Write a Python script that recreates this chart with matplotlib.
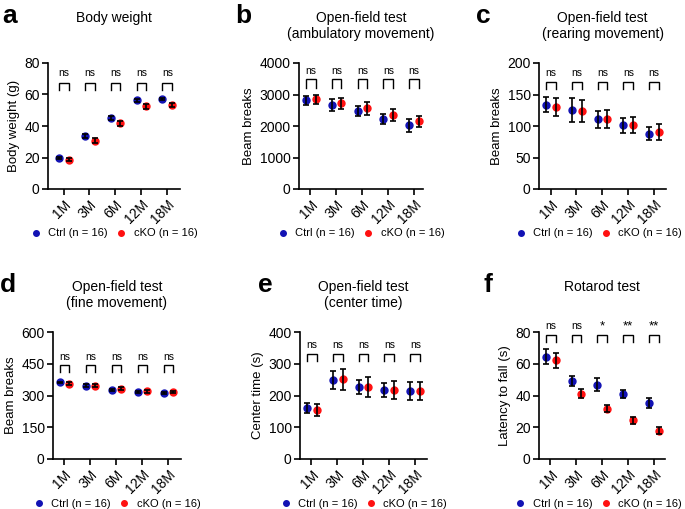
import numpy as np
import matplotlib
matplotlib.use("Agg")
import matplotlib.pyplot as plt

plt.rcParams['font.family'] = ['Liberation Sans', 'DejaVu Sans']

ages = ['1M', '3M', '6M', '12M', '18M']
labels = ['Ctrl (n = 16)', 'cKO (n = 16)']

# body weight (g)
bw_ctrl = [19.8, 33.7, 45.1, 56.4, 57.1]
bw_ctrl_err = [0.5, 1.2, 1.0, 0.9, 0.8]
bw_cko = [18.7, 30.7, 41.7, 52.6, 53.1]
bw_cko_err = [0.8, 1.5, 1.6, 1.6, 1.2]

# ambulatory movement (beam breaks)
amb_ctrl = [2821, 2653, 2474, 2232, 2021]
amb_ctrl_err = [140, 190, 160, 160, 200]
amb_cko = [2842, 2716, 2558, 2347, 2147]
amb_cko_err = [150, 180, 200, 190, 180]

# rearing movement (beam breaks)
rear_ctrl = [133.7, 126, 110.5, 101, 88]
rear_ctrl_err = [11.6, 19, 13, 12, 11]
rear_cko = [130.5, 123.7, 111, 102, 90.5]
rear_cko_err = [14.5, 18, 14, 13, 12]

# fine movement (beam breaks)
fine_ctrl = [362, 346, 328, 316, 312]
fine_ctrl_err = [3, 7, 5, 5, 5]
fine_cko = [356, 345, 331, 320, 316]
fine_cko_err = [7, 7, 7, 7, 6]

# center time (s)
ctr_ctrl = [160, 248, 226, 216, 214]
ctr_ctrl_err = [16, 29, 22, 22, 29]
ctr_cko = [154, 251, 226, 218, 215]
ctr_cko_err = [19, 34, 32, 28, 29]

# rotarod latency to fall (s)
rot_ctrl = [64.5, 49, 46.8, 41, 35.5]
rot_ctrl_err = [4.9, 3.2, 4.0, 2.6, 3.2]
rot_cko = [62.2, 41, 31.7, 24.4, 17.9]
rot_cko_err = [4.8, 2.8, 2.4, 2.3, 2.1]

sig_ns = ['ns'] * 5
sig_rot = ['ns', 'ns', '*', '**', '**']

W, H = 685, 509
fig = plt.figure(figsize=(W / 100, H / 100), dpi=100)

blue = '#1212b4'
red = '#ff1010'
off_c, off_k = -0.18, 0.20


def rect(x0, x1, y0, y1):
    return [x0 / W, 1 - y1 / H, (x1 - x0) / W, (y1 - y0) / H]


panels = [
    # letter, title, ylabel, rect, xlim, ylim, yticks, data, sig, bracket(top, bottom, text), letter pos, title top
    ('a', 'Body weight', 'Body weight (g)', (48, 180, 63, 189), (-0.60, 4.50), 80, np.arange(0, 81, 20),
     (bw_ctrl, bw_ctrl_err, bw_cko, bw_cko_err), sig_ns, (67, 63, 73.7), (2, 23), 11),
    ('b', 'Open-field test\n(ambulatory movement)', 'Beam breaks', (299, 423, 63, 189), (-0.44, 4.35), 4000,
     np.arange(0, 4001, 1000), (amb_ctrl, amb_ctrl_err, amb_cko, amb_cko_err), sig_ns, (3484, 3221, 3737), (235, 23), 11),
    ('c', 'Open-field test\n(rearing movement)', 'Beam breaks', (539, 666, 63, 189), (-0.45, 4.47), 200,
     np.arange(0, 201, 50), (rear_ctrl, rear_ctrl_err, rear_cko, rear_cko_err), sig_ns, (170, 158, 184), (476, 23), 11),
    ('d', 'Open-field test\n(fine movement)', 'Beam breaks', (53, 181, 332, 459), (-0.43, 4.49), 600,
     np.arange(0, 601, 150), (fine_ctrl, fine_ctrl_err, fine_cko, fine_cko_err), sig_ns, (444, 411, 480), (0, 292), 280),
    ('e', 'Open-field test\n(center time)', 'Center time (s)', (300, 427, 332, 459), (-0.44, 4.46), 400,
     np.arange(0, 401, 100), (ctr_ctrl, ctr_ctrl_err, ctr_cko, ctr_cko_err), sig_ns, (331, 310, 358), (258, 292), 280),
    ('f', 'Rotarod test', 'Latency to fall (s)', (539, 665, 332, 459), (-0.44, 4.43), 80,
     np.arange(0, 81, 20), (rot_ctrl, rot_ctrl_err, rot_cko, rot_cko_err), sig_rot, (78.2, 74, 83.8), (483, 292), 280),
]

x = np.arange(len(ages))

for letter, title, ylab, r, xlim, ymax, yticks, data, sig, br, lpos, ttop in panels:
    ax = fig.add_axes(rect(*r))
    yc, ec, yk, ek = data
    ax.errorbar(x + off_c, yc, yerr=ec, fmt='none', ecolor='black', elinewidth=1.2,
                capsize=2.5, capthick=1.2, zorder=3)
    ax.errorbar(x + off_k, yk, yerr=ek, fmt='none', ecolor='black', elinewidth=1.2,
                capsize=2.5, capthick=1.2, zorder=3)
    ax.plot(x + off_c, yc, 'o', color=blue, ms=5, zorder=2, label=labels[0])
    ax.plot(x + off_k, yk, 'o', color=red, ms=5, zorder=2, label=labels[1])

    top, bot, ty = br
    for i, s in enumerate(sig):
        x0, x1 = i + off_c, i + off_k
        ax.plot([x0, x0, x1, x1], [bot, top, top, bot], color='black', lw=1.0,
                clip_on=False, solid_joinstyle='miter')
        fs = 7.5 if s == 'ns' else 9.5
        ax.text((x0 + x1) / 2, ty, s, ha='center', va='center', fontsize=fs, clip_on=False)

    ax.set_xlim(*xlim)
    ax.set_ylim(0, ymax)
    ax.set_yticks(yticks)
    ax.set_xticks(x)
    ax.set_xticklabels(ages, rotation=45, ha='right', rotation_mode='anchor')
    ax.set_ylabel(ylab, fontsize=9.5, labelpad=3)
    ax.tick_params(labelsize=10, width=1.2, length=4, pad=2)
    for side in ['top', 'right']:
        ax.spines[side].set_visible(False)
    for side in ['left', 'bottom']:
        ax.spines[side].set_linewidth(1.2)

    lx = 0.47 if letter in ('c', 'f') else 0.5
    ax.legend(loc='upper center', bbox_to_anchor=(lx, -0.26), ncol=2, frameon=False,
              fontsize=8, handletextpad=0.6, columnspacing=0.7, handlelength=1.0,
              markerscale=0.8, borderaxespad=0.2)

    cx = (r[0] + r[1]) / 2 / W
    fig.text(cx, 1 - ttop / H, title, ha='center', va='top', fontsize=10, linespacing=1.15)
    fig.text(lpos[0] / W, 1 - lpos[1] / H, letter, ha='left', va='baseline',
             fontsize=19, fontweight='bold')

fig.savefig('out.png', dpi=100)
